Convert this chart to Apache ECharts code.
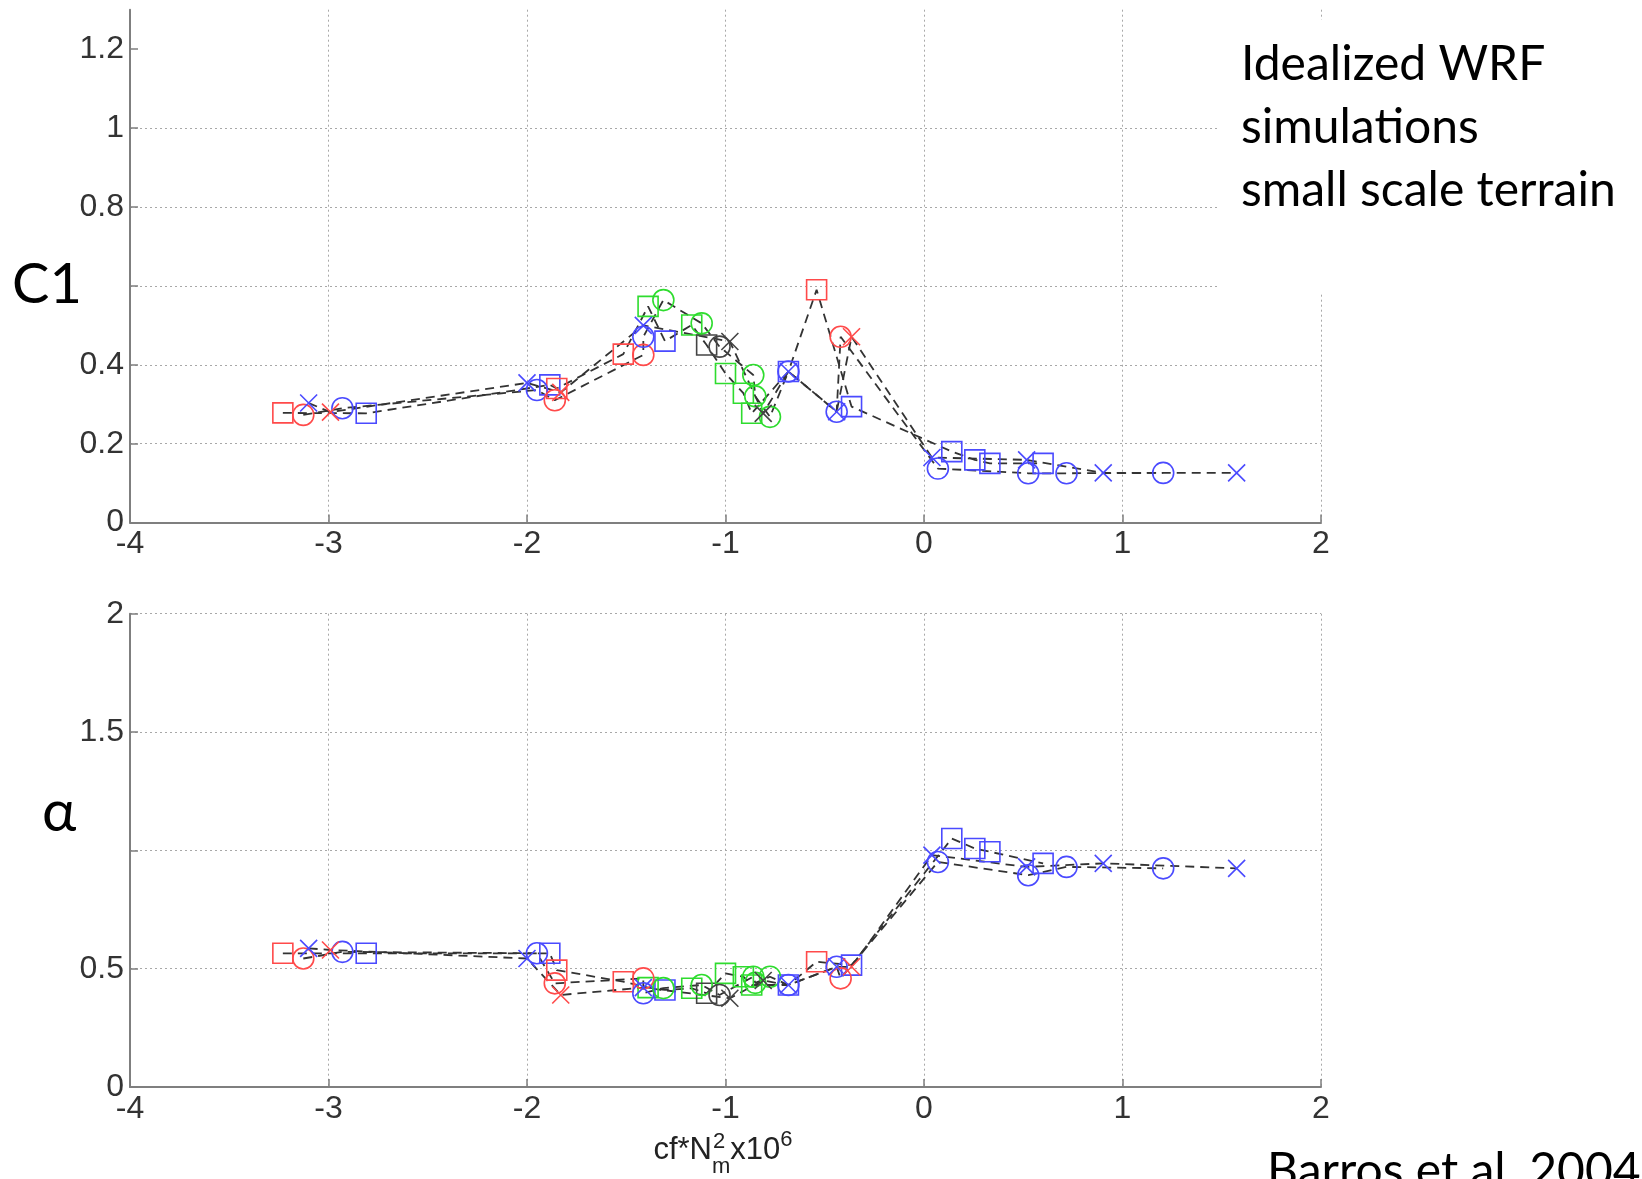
<!DOCTYPE html>
<html><head><meta charset="utf-8">
<script src="https://cdn.jsdelivr.net/npm/echarts@6/dist/echarts.min.js"></script>
<style>html,body{margin:0;padding:0;background:#fff}#c{width:1642px;height:1179px}</style>
</head><body><div id="c"></div>
<script>
// ---- tick labels ----
const xTicks = [-4, -3, -2, -1, 0, 1, 2];
const c1Ticks = [0, 0.2, 0.4, 0.6, 0.8, 1, 1.2];
const alphaTicks = [0, 0.5, 1, 1.5, 2];

// ---- square-marker run ----
const sqX     = [-3.23, -2.81, -1.885, -1.85, -1.515, -1.39, -1.305, -1.17, -1.095, -1.00, -0.91, -0.868, -0.683, -0.541, -0.365, 0.14, 0.256, 0.332, 0.60];
const sqC1    = [0.278, 0.277, 0.349, 0.340, 0.427, 0.548, 0.460, 0.501, 0.450, 0.378, 0.328, 0.277, 0.383, 0.590, 0.294, 0.180, 0.159, 0.150, 0.150];
const sqAlpha = [0.565, 0.565, 0.565, 0.494, 0.445, 0.420, 0.410, 0.417, 0.396, 0.480, 0.466, 0.431, 0.431, 0.529, 0.515, 1.050, 1.008, 0.994, 0.945];
const sqCol   = ['r','b','b','r','r','g','b','g','k','g','g','g','b','r','b','b','b','b','b'];

// ---- circle-marker run ----
const ciX     = [-3.127, -2.93, -1.95, -1.86, -1.414, -1.414, -1.313, -1.12, -1.03, -0.86, -0.85, -0.776, -0.683, -0.44, -0.42, 0.07, 0.525, 0.718, 1.205];
const ciC1    = [0.273, 0.290, 0.336, 0.310, 0.425, 0.471, 0.564, 0.505, 0.446, 0.374, 0.320, 0.268, 0.383, 0.281, 0.471, 0.137, 0.125, 0.125, 0.126];
const ciAlpha = [0.543, 0.571, 0.565, 0.438, 0.459, 0.396, 0.418, 0.431, 0.389, 0.466, 0.440, 0.466, 0.431, 0.508, 0.459, 0.951, 0.895, 0.930, 0.924];
const ciCol   = ['r','b','b','r','r','b','g','g','k','g','g','g','b','b','r','b','b','b','b'];

// ---- cross-marker run ----
const crX     = [-3.10, -2.99, -2.00, -1.83, -1.414, -0.978, -0.81, -0.683, -0.44, -0.365, 0.04, 0.517, 0.903, 1.575];
const crC1    = [0.303, 0.280, 0.354, 0.330, 0.500, 0.459, 0.277, 0.383, 0.281, 0.471, 0.165, 0.159, 0.126, 0.126];
const crAlpha = [0.586, 0.579, 0.543, 0.389, 0.420, 0.375, 0.450, 0.431, 0.508, 0.508, 0.980, 0.930, 0.945, 0.924];
const crCol   = ['b','r','b','r','b','k','k','b','b','r','b','b','b','b'];

const colorMap = { r: '#ff4a4a', b: '#4a4aff', g: '#2edc2e', k: '#444444' };
const shapes = { sq: 'rect', ci: 'circle', cr: 'path://M0,0L10,10M10,0L0,10' };
const sizes = { sq: 20, ci: 21, cr: 17 };

function run(name, xs, ys, cols, shape, gi) {
  return {
    type: 'line', name: name, xAxisIndex: gi, yAxisIndex: gi,
    symbol: shapes[shape], symbolSize: sizes[shape], showAllSymbol: true,
    lineStyle: { color: '#333333', width: 1.8, type: [9, 6] },
    itemStyle: { color: 'transparent' },
    emphasis: { disabled: true }, silent: true, z: 3,
    data: xs.map((x, i) => ({
      value: [x, ys[i]],
      itemStyle: { color: 'transparent', borderColor: colorMap[cols[i]], borderWidth: 1.6 }
    }))
  };
}

const TF = '"Liberation Sans", Arial, sans-serif';
const axisGray = '#7f7f7f';
const tickFont = 32;
function xAxisDef(gi) {
  return {
    type: 'value', gridIndex: gi, min: xTicks[0], max: xTicks[xTicks.length - 1], interval: 1,
    axisLine: { show: true, onZero: false, lineStyle: { color: axisGray, width: 2 } },
    axisTick: { show: true, inside: true, length: 8, lineStyle: { color: axisGray, width: 1.5 } },
    axisLabel: { fontSize: tickFont, color: '#333', fontFamily: TF, margin: 6, formatter: v => String(v) },
    splitLine: { show: true, showMinLine: false, lineStyle: { color: '#a8a8a8', width: 1, type: [2, 3] } }
  };
}

const option = {
  animation: false,
  backgroundColor: '#fff',
  grid: [
    { left: 130, right: 321, top: 9.7, height: 512.9, containLabel: false, outerBoundsMode: 'none' },
    { left: 130, right: 321, top: 613.7, height: 473.3, containLabel: false, outerBoundsMode: 'none' }
  ],
  xAxis: [xAxisDef(0), xAxisDef(1)],
  yAxis: [
    {
      type: 'value', gridIndex: 0, min: 0, max: 1.3, interval: 0.2,
      axisLine: { show: true, onZero: false, lineStyle: { color: axisGray, width: 2 } },
      axisTick: { show: true, inside: true, length: 8, customValues: c1Ticks, lineStyle: { color: axisGray, width: 1.5 } },
      axisLabel: {
        fontSize: tickFont, color: '#333', fontFamily: TF, margin: 6, customValues: c1Ticks,
        formatter: v => (Math.abs(v - 0.6) < 1e-6 || v > 1.25) ? '' : String(+v.toFixed(1))
      },
      splitLine: { show: true, showMinLine: false, showMaxLine: false, lineStyle: { color: '#a8a8a8', width: 1, type: [2, 3] } }
    },
    {
      type: 'value', gridIndex: 1, min: 0, max: 2, interval: 0.5,
      axisLine: { show: true, onZero: false, lineStyle: { color: axisGray, width: 2 } },
      axisTick: { show: true, inside: true, length: 8, lineStyle: { color: axisGray, width: 1.5 } },
      axisLabel: {
        fontSize: tickFont, color: '#333', fontFamily: TF, margin: 6, customValues: alphaTicks,
        formatter: v => (Math.abs(v - 1) < 1e-6) ? '' : String(+v.toFixed(1))
      },
      splitLine: { show: true, showMinLine: false, lineStyle: { color: '#a8a8a8', width: 1, type: [2, 3] } }
    }
  ],
  series: [
    run('squares C1', sqX, sqC1, sqCol, 'sq', 0),
    run('circles C1', ciX, ciC1, ciCol, 'ci', 0),
    run('crosses C1', crX, crC1, crCol, 'cr', 0),
    run('squares alpha', sqX, sqAlpha, sqCol, 'sq', 1),
    run('circles alpha', ciX, ciAlpha, ciCol, 'ci', 1),
    run('crosses alpha', crX, crAlpha, crCol, 'cr', 1)
  ]
};

// axis title cf*N^2_m x10^6 laid out with measured widths
const LF = 'Lato, "Noto Sans", sans-serif';
const ctx = document.createElement('canvas').getContext('2d');
function w(t, s) { ctx.font = s + 'px ' + TF; return ctx.measureText(t).width; }
const mainS = 31, subS = 22;
const partsW = w('cf*N', mainS) + w('m', subS) + w('x10', mainS) + w('6', subS);
let cx = 723 - partsW / 2;
const baseY = 1166;
const titleEls = [];
titleEls.push({ type: 'text', x: cx, y: baseY, style: { text: 'cf*N', font: mainS + 'px ' + TF, fill: '#222', textVerticalAlign: 'bottom' }, z: 50 });
cx += w('cf*N', mainS);
titleEls.push({ type: 'text', x: cx + 1, y: baseY - 13, style: { text: '2', font: subS + 'px ' + TF, fill: '#222', textVerticalAlign: 'bottom' }, z: 50 });
titleEls.push({ type: 'text', x: cx, y: baseY + 12, style: { text: 'm', font: subS + 'px ' + TF, fill: '#222', textVerticalAlign: 'bottom' }, z: 50 });
cx += w('m', subS);
titleEls.push({ type: 'text', x: cx, y: baseY, style: { text: 'x10', font: mainS + 'px ' + TF, fill: '#222', textVerticalAlign: 'bottom' }, z: 50 });
cx += w('x10', mainS);
titleEls.push({ type: 'text', x: cx, y: baseY - 15, style: { text: '6', font: subS + 'px ' + TF, fill: '#222', textVerticalAlign: 'bottom' }, z: 50 });

option.graphic = [
  { type: 'rect', shape: { x: 1220, y: 20, width: 422, height: 272 }, style: { fill: '#fff' }, z: 100, silent: true },
  { type: 'text', x: 1241, y: 65, style: { text: 'Idealized WRF', font: '48px ' + LF, fill: '#000', textVerticalAlign: 'middle' }, z: 101 },
  { type: 'text', x: 1241, y: 128, style: { text: 'simulations', font: '48px ' + LF, fill: '#000', textVerticalAlign: 'middle' }, z: 101 },
  { type: 'text', x: 1241, y: 191, style: { text: 'small scale terrain', font: '48px ' + LF, fill: '#000', textVerticalAlign: 'middle' }, z: 101 },
  { type: 'text', x: 12, y: 285, style: { text: 'C1', font: '56px ' + LF, fill: '#000', textVerticalAlign: 'middle' }, z: 101 },
  { type: 'text', x: 42, y: 812, style: { text: 'α', font: '58px ' + LF, fill: '#000', textVerticalAlign: 'middle' }, z: 101 },
  { type: 'text', x: 1267, y: 1172, style: { text: 'Barros et al. 2004', font: '48px ' + LF, fill: '#000', textVerticalAlign: 'middle' }, z: 101 }
].concat(titleEls);

const chart = echarts.init(document.getElementById('c'), null, { renderer: 'canvas' });
chart.setOption(option);
</script>
</body></html>
